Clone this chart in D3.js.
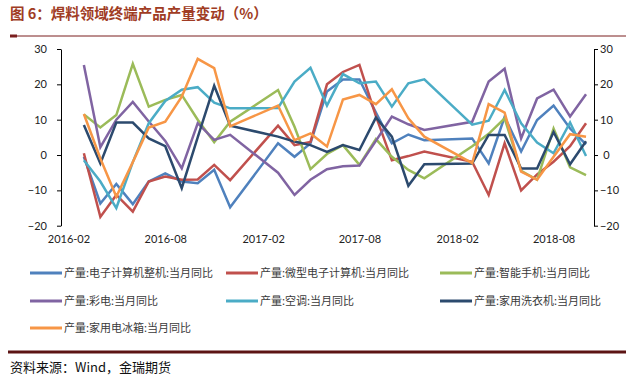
<!DOCTYPE html>
<html>
<head>
<meta charset="utf-8">
<script src="https://cdn.jsdelivr.net/npm/d3@7"></script>
<style>
  body { margin: 0; background: #fff; }
  svg { display: block; }
</style>
</head>
<body>
<svg id="chart" width="632" height="384"></svg>
<script>
// dane - miesiace (brak stycznia i lutego w kazdym roku)
let months = ["2016-03","2016-04","2016-05","2016-06","2016-07","2016-08","2016-09","2016-10","2016-11","2016-12",
              "2017-03","2017-04","2017-05","2017-06","2017-07","2017-08","2017-09","2017-10","2017-11","2017-12",
              "2018-03","2018-04","2018-05","2018-06","2018-07","2018-08","2018-09","2018-10"];
let tickLabels = ["2016-02","2016-08","2017-02","2017-08","2018-02","2018-08"];
let yTicks = [-20, -10, 0, 10, 20, 30];

let computer = [-0.5,-13.7,-8.2,-13.9,-7.5,-5.2,-7.5,-8,-4.2,-14.8, 3.3,-0.5,3.3,18,21.4,21.4,12,3.3,5.8,4.2, 4.7,-2.4,10.8,1,9.9,14,7.5,3];
let microPc  = [0.5,-17.5,-11.3,-16,-7.5,-6.1,-7,-6.9,-2.8,-7.1, 8.3,2.8,3.7,20,23.5,25.5,11,-1.5,-0.3,1, -1.9,-11.3,3.3,-10,-5.5,-1.9,2.5,9];
let phone    = [11.5,7.8,11.3,25.8,13.7,15.6,17,10,3.6,9.4, 18.4,8,-4,0.3,2.8,-2.8,4.5,-0.5,-4.2,-6.6, 2.5,6,10.4,-4.5,-7,7.5,-3.5,-5.7];
let tv       = [25.5,2.2,10,15,9.5,4,-3.8,9,4.3,5.7, -5,-11.3,-7,-4,-3.2,-3,4,10.9,8.7,7.1, 9.4,20.8,24.4,4.7,16,18.5,10.9,17.2];
let aircon   = [-1.5,-7.5,-15,-2,9,15.3,18.5,19.2,14.8,13.2, 13.3,20.8,24.7,14,22.9,20.3,20.8,13.7,20.3,21.4, 8.6,9.7,18.4,9,3.5,0.5,9.2,-0.3];
let washer   = [8.5,-2.4,9.2,9.2,4.7,2.5,-9.4,5,19.6,8.3, 5.2,3.8,2.8,0.9,2.8,1.4,10.6,5.2,-8.7,-2.6, -2.4,5.7,5.7,-3.8,-3.8,6.5,-2.6,3.9];
let fridge   = [11.6,-1,-11.8,-2,7.8,9.4,16.5,27.2,24.6,8.1, 14,4.2,6.1,2.4,15.7,17,14.4,18.6,10.4,5.2, -2.3,14.4,12,-4.7,-7,-0.5,5.9,5.2];

let names = ["产量:电子计算机整机:当月同比","产量:微型电子计算机:当月同比","产量:智能手机:当月同比",
             "产量:彩电:当月同比","产量:空调:当月同比","产量:家用洗衣机:当月同比","产量:家用电冰箱:当月同比"];
let colors = ["#4f81bd","#c0504d","#9bbb59","#8064a2","#4bacc6","#2c4a6e","#f79646"];
let seriesData = [computer, microPc, phone, tv, aircon, washer, fridge];

let parseMonth = d3.timeParse("%Y-%m");
let svg = d3.select("#chart");

// tytul
svg.append("text")
    .attr("x", 10).attr("y", 19)
    .attr("font-family", "Noto Sans CJK SC").attr("font-size", 14.5).attr("font-weight", "bold")
    .attr("fill", "#a03c24")
    .text("图 6：焊料领域终端产品产量变动（%）");
svg.append("line").attr("x1", 10).attr("x2", 626).attr("y1", 36).attr("y2", 36)
    .attr("stroke", "#7a1f1f").attr("stroke-width", 1);
svg.append("line").attr("x1", 10).attr("x2", 17).attr("y1", 36).attr("y2", 36)
    .attr("stroke", "#7a1f1f").attr("stroke-width", 3);

// skale
let x = d3.scaleTime().domain([new Date(2016,0,18), new Date(2018,9,16)]).range([61, 594]);
let y = d3.scaleLinear().domain([-20, 30]).range([225.7, 49]);

// osie
let left = svg.append("g").attr("transform", "translate(61,0)")
    .call(d3.axisLeft(y).tickValues(yTicks).tickSize(4).tickSizeOuter(0).tickPadding(10));
let right = svg.append("g").attr("transform", "translate(594,0)")
    .call(d3.axisRight(y).tickValues(yTicks).tickSize(4).tickSizeOuter(0).tickPadding(3));
right.selectAll("text")
    .attr("text-anchor", "middle")
    .attr("x", d => d < 0 ? 15.5 : 12.5);
let bottom = svg.append("g").attr("transform", "translate(0,225.7)")
    .call(d3.axisBottom(x).tickValues(tickLabels.map(parseMonth)).tickFormat(d3.timeFormat("%Y-%m")).tickSize(0).tickPadding(10));
bottom.select(".domain").remove();

svg.selectAll(".domain, .tick line").attr("stroke", "#000");
svg.selectAll(".tick text").attr("font-family", "Lato").attr("font-size", 11).attr("fill", "#222");

// linie
let line = d3.line()
    .x((d, i) => x(parseMonth(months[i])))
    .y(d => y(d));

svg.append("g").selectAll("path")
    .data(seriesData)
    .enter()
    .append("path")
    .attr("d", d => line(d))
    .attr("fill", "none")
    .attr("stroke", (d, i) => colors[i])
    .attr("stroke-width", 2.5)
    .attr("stroke-linejoin", "miter");

// legenda
let legCols = [30, 226, 440];
let legRows = [273, 301, 328];
let leg = svg.append("g").selectAll("g")
    .data(names)
    .enter()
    .append("g")
    .attr("transform", (d, i) => "translate(" + legCols[i % 3] + "," + legRows[Math.floor(i / 3)] + ")");
leg.append("line")
    .attr("x1", 0).attr("x2", 32).attr("y1", 0).attr("y2", 0)
    .attr("stroke", (d, i) => colors[i]).attr("stroke-width", 3);
leg.append("text")
    .attr("x", 34).attr("dy", "0.35em")
    .attr("font-family", "Noto Sans CJK SC").attr("font-size", 11).attr("fill", "#3a3a3a")
    .text(d => d);

// stopka
svg.append("line").attr("x1", 8).attr("x2", 626).attr("y1", 352).attr("y2", 352)
    .attr("stroke", "#5c1414").attr("stroke-width", 3);
svg.append("text")
    .attr("x", 10).attr("y", 372)
    .attr("font-family", "Noto Sans CJK SC").attr("font-size", 13).attr("fill", "#111")
    .text("资料来源：Wind，金瑞期货");
</script>
</body>
</html>
